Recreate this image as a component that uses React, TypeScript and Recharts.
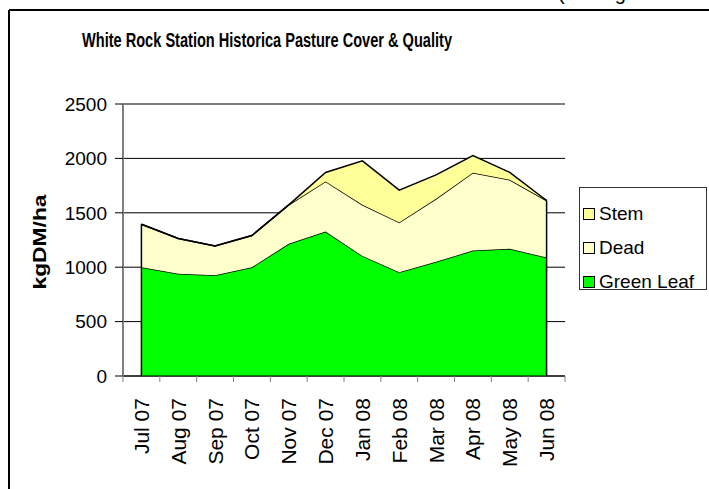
import {
  Area,
  AreaChart,
  CartesianGrid,
  Legend,
  ReferenceLine,
  XAxis,
  YAxis,
} from "recharts";

const months = [
  "Jul 07", "Aug 07", "Sep 07", "Oct 07", "Nov 07", "Dec 07",
  "Jan 08", "Feb 08", "Mar 08", "Apr 08", "May 08", "Jun 08",
];
const greenLeaf = [1000, 940, 925, 1000, 1215, 1328, 1104, 954, 1049, 1153, 1169, 1089];
const dead = [395, 324, 271, 291, 358, 460, 469, 457, 580, 715, 634, 524];
const stem = [0, 0, 0, 0, 0, 83, 405, 297, 220, 159, 68, 0];
const yTicks = [0, 500, 1000, 1500, 2000, 2500];

const data = months.map((month, i) => ({
  month,
  greenLeaf: greenLeaf[i],
  dead: dead[i],
  stem: stem[i],
}));

const W = 709;
const H = 489;
const FONT = "'Liberation Sans', Arial, sans-serif";
const margin = { top: 104, right: 144, bottom: 13, left: 40 };
const Y_AXIS_W = 83;
const X_AXIS_H = 100;
const PLOT_W = W - margin.left - margin.right - Y_AXIS_W;
const BAND = PLOT_W / months.length;
const X_TICK = 6;
const X_TICK_GAP = 16;

const series = [
  { key: "stem", name: "Stem", fill: "#ffff99" },
  { key: "dead", name: "Dead", fill: "#ffffcc" },
  { key: "greenLeaf", name: "Green Leaf", fill: "#00ff00" },
];

function MonthTick(props: any) {
  const { x, y, payload, index } = props;
  const axisY = y - X_TICK - X_TICK_GAP;
  const half = BAND / 2;
  return (
    <g>
      <line x1={x - half} x2={x - half} y1={axisY} y2={axisY + X_TICK} stroke="#808080" />
      {index === months.length - 1 && (
        <line x1={x + half} x2={x + half} y1={axisY} y2={axisY + X_TICK} stroke="#808080" />
      )}
      <text
        x={x}
        y={y}
        dy="0.36em"
        transform={`rotate(-90, ${x}, ${y})`}
        textAnchor="end"
        fontSize={21}
        fontFamily={FONT}
        fill="#000"
      >
        {payload.value}
      </text>
    </g>
  );
}

function YLabel(props: any) {
  const { viewBox } = props;
  const cx = viewBox.x;
  const cy = viewBox.y + viewBox.height / 2 + 2;
  return (
    <text
      x={cx}
      y={cy}
      transform={`rotate(-90, ${cx}, ${cy})`}
      textAnchor="middle"
      dominantBaseline="central"
      fontSize={18}
      fontWeight="bold"
      fontFamily={FONT}
      textLength={95}
      lengthAdjust="spacingAndGlyphs"
      fill="#000"
    >
      kgDM/ha
    </text>
  );
}

function LegendBox() {
  return (
    <div
      style={{
        width: 128,
        height: 103,
        border: "1px solid #333",
        background: "#fff",
        boxSizing: "border-box",
        fontFamily: FONT,
        fontSize: 19,
        color: "#000",
        paddingTop: 9,
      }}
    >
      {series.map((s) => (
        <div key={s.key} style={{ display: "flex", alignItems: "center", height: 34, paddingLeft: 3 }}>
          <span
            style={{
              width: 10,
              height: 10,
              background: s.fill,
              border: "1px solid #000",
              marginRight: 4,
              flex: "none",
            }}
          />
          {s.name}
        </div>
      ))}
    </div>
  );
}

export default function App() {
  const first = 0;
  const last = months.length - 1;
  const total = (i: number) => greenLeaf[i] + dead[i] + stem[i];
  return (
    <div style={{ position: "absolute", left: 0, top: 0, width: W, height: H, background: "#fff", overflow: "hidden" }}>
      <svg width={W} height={H} style={{ position: "absolute", left: 0, top: 0 }}>
        <text x={558} y={0} fontSize={20} fontFamily={FONT} fill="#000">
          (average cover
        </text>
        <line x1={9} y1={10} x2={W} y2={10} stroke="#000" strokeWidth={2} />
        <line x1={9} y1={10} x2={9} y2={H} stroke="#000" strokeWidth={2} />
        <text
          x={267}
          y={47}
          textAnchor="middle"
          fontSize={19.5}
          fontWeight="bold"
          fontFamily={FONT}
          textLength={370}
          lengthAdjust="spacingAndGlyphs"
          fill="#000"
        >
          White Rock Station Historica Pasture Cover &amp; Quality
        </text>
      </svg>
      <div style={{ position: "absolute", left: 0, top: 0 }}>
        <AreaChart width={W} height={H} data={data} margin={margin}>
          <CartesianGrid vertical={false} stroke="#000" strokeWidth={1} />
          <XAxis
            dataKey="month"
            height={X_AXIS_H}
            interval={0}
            padding={{ left: BAND / 2, right: BAND / 2 }}
            tickLine={false}
            tickSize={X_TICK}
            tickMargin={X_TICK_GAP}
            axisLine={{ stroke: "#000" }}
            tick={<MonthTick />}
          />
          <YAxis
            width={Y_AXIS_W}
            domain={[0, 2500]}
            ticks={yTicks}
            interval={0}
            tickSize={8}
            tickMargin={8}
            axisLine={{ stroke: "#808080", strokeWidth: 2 }}
            tickLine={{ stroke: "#000" }}
            tick={{ fontSize: 19, fill: "#000", fontFamily: FONT }}
            label={<YLabel />}
          />
          <Legend
            layout="horizontal"
            verticalAlign="middle"
            align="center"
            wrapperStyle={{ left: 579, top: 187, width: 128, height: 103 }}
            content={<LegendBox />}
          />
          <Area
            type="linear"
            dataKey="greenLeaf"
            name="Green Leaf"
            stackId="1"
            stroke="#000"
            strokeWidth={1.5}
            fill="#00ff00"
            fillOpacity={1}
            isAnimationActive={false}
          />
          <Area
            type="linear"
            dataKey="dead"
            name="Dead"
            stackId="1"
            stroke="#000"
            strokeWidth={1.5}
            fill="#ffffcc"
            fillOpacity={1}
            isAnimationActive={false}
          />
          <Area
            type="linear"
            dataKey="stem"
            name="Stem"
            stackId="1"
            stroke="#000"
            strokeWidth={1.5}
            fill="#ffff99"
            fillOpacity={1}
            isAnimationActive={false}
          />
          <ReferenceLine
            segment={[{ x: months[first], y: 0 }, { x: months[first], y: total(first) }]}
            stroke="#000"
            strokeWidth={1.5}
          />
          <ReferenceLine
            segment={[{ x: months[last], y: 0 }, { x: months[last], y: total(last) }]}
            stroke="#000"
            strokeWidth={1.5}
          />
        </AreaChart>
      </div>
    </div>
  );
}
